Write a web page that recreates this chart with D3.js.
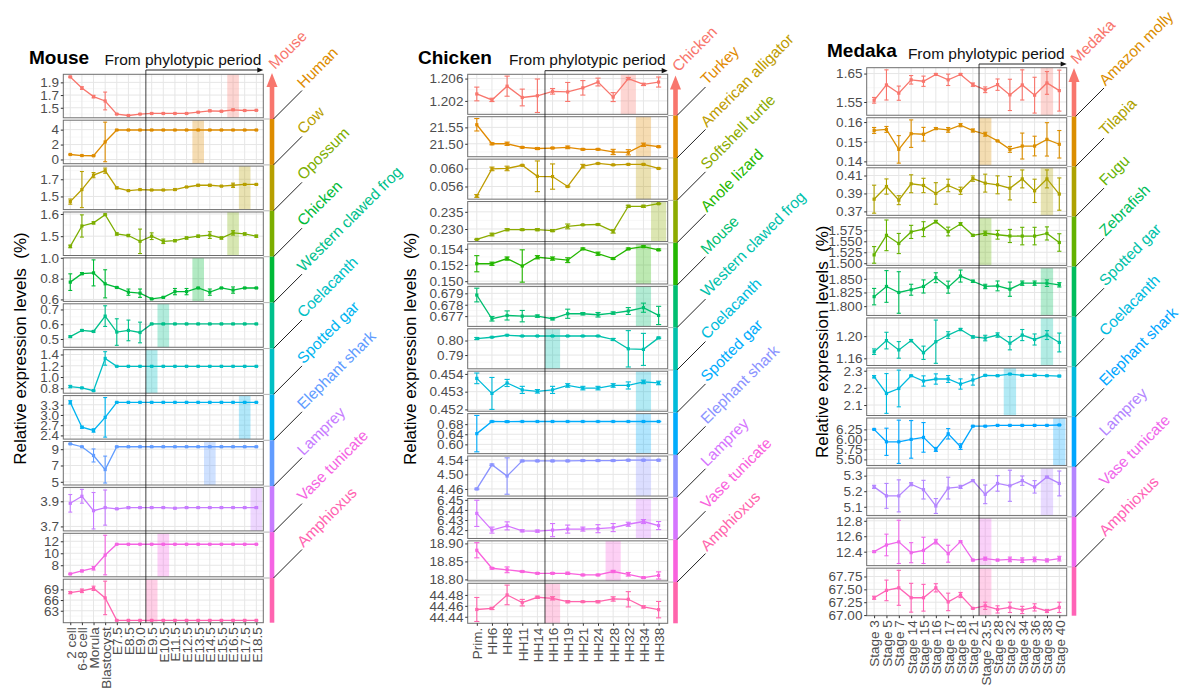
<!DOCTYPE html>
<html>
<head>
<meta charset="utf-8">
<script src="https://cdn.jsdelivr.net/npm/d3@7"></script>
<style>
  html, body { margin: 0; padding: 0; background: #fff; }
  svg { display: block; font-family: "Liberation Sans", Arial, Helvetica, sans-serif; }
</style>
</head>
<body>
<svg id="chart" width="1190" height="690"></svg>
<script>
// ---------- Mouse ----------
const mouseStages = ["2 cell","6-8 cell","Morula","Blastocyst","E7.5","E8.5","E9.0","E9.5","E10.5","E11.5","E12.5","E13.5","E14.5","E15.5","E16.5","E17.5","E18.5"];
const mouseSpecies = ["Mouse","Human","Cow","Opossum","Chicken","Western clawed frog","Coelacanth","Spotted gar","Elephant shark","Lamprey","Vase tunicate","Amphioxus"];
const mouseLevels = [
  [1.986,1.81,1.676,1.607,1.40,1.378,1.40,1.41,1.41,1.41,1.41,1.43,1.452,1.445,1.468,1.457,1.46],
  [0.67,0.53,0.5,2.35,3.95,3.95,3.95,3.95,3.95,3.95,3.95,3.95,3.95,3.95,3.95,3.95,3.95],
  [1.44,1.58,1.748,1.80,1.60,1.568,1.58,1.575,1.575,1.58,1.61,1.63,1.63,1.62,1.63,1.64,1.64],
  [1.454,1.546,1.56,1.597,1.51,1.503,1.477,1.50,1.477,1.48,1.492,1.50,1.505,1.492,1.515,1.51,1.50],
  [0.766,0.848,0.855,0.75,0.715,0.67,0.66,0.605,0.62,0.675,0.675,0.71,0.67,0.71,0.69,0.71,0.71],
  [0.516,0.558,0.551,0.655,0.547,0.558,0.544,0.602,0.602,0.602,0.602,0.602,0.602,0.602,0.602,0.602,0.602],
  [0.831,0.807,0.758,1.33,1.19,1.19,1.19,1.19,1.19,1.19,1.19,1.19,1.19,1.19,1.19,1.19,1.19],
  [3.37,2.64,2.545,2.93,3.37,3.37,3.37,3.37,3.37,3.37,3.37,3.37,3.37,3.37,3.37,3.37,3.37],
  [9.65,9.3,8.23,6.5,9.3,9.3,9.3,9.3,9.3,9.3,9.3,9.3,9.3,9.3,9.3,9.3,9.3],
  [3.884,3.94,3.825,3.85,3.84,3.85,3.85,3.85,3.85,3.845,3.85,3.85,3.85,3.85,3.85,3.85,3.85],
  [6.55,7.05,7.5,9.7,11.5,11.5,11.5,11.5,11.5,11.5,11.5,11.5,11.5,11.5,11.5,11.5,11.5],
  [68.1,68.6,69.3,66.6,60.3,60.3,60.3,60.3,60.3,60.3,60.3,60.3,60.3,60.3,60.3,60.3,60.3]
];
const mouseErrors = [
  [0.01,0.02,0.02,0.14,0.005,0.005,0.005,0.005,0.005,0.005,0.005,0.005,0.012,0.008,0.01,0.005,0.005],
  [0.05,0.05,0.05,2.65,0.03,0.03,0.03,0.03,0.03,0.03,0.03,0.03,0.03,0.03,0.03,0.03,0.03],
  [0.03,0.21,0.03,0.03,0.01,0.005,0.005,0.005,0.005,0.01,0.005,0.01,0.01,0.005,0.025,0.005,0.005],
  [0.006,0.05,0.005,0.003,0.005,0.005,0.055,0.015,0.01,0.005,0.005,0.005,0.015,0.005,0.01,0.005,0.005],
  [0.08,0.01,0.125,0.135,0.005,0.03,0.04,0.005,0.005,0.03,0.03,0.005,0.03,0.005,0.03,0.005,0.005],
  [0.005,0.005,0.005,0.07,0.09,0.07,0.07,0.004,0.004,0.004,0.004,0.004,0.004,0.004,0.004,0.004,0.004],
  [0.02,0.01,0.01,0.12,0.005,0.005,0.005,0.005,0.005,0.005,0.005,0.005,0.005,0.005,0.005,0.005,0.005],
  [0.05,0.03,0.05,0.58,0.01,0.01,0.01,0.01,0.01,0.01,0.01,0.01,0.01,0.01,0.01,0.01,0.01],
  [0.05,0.05,0.8,1.65,0.05,0.05,0.05,0.05,0.05,0.05,0.05,0.05,0.05,0.05,0.05,0.05,0.05],
  [0.07,0.055,0.145,0.14,0.005,0.008,0.005,0.005,0.005,0.005,0.005,0.005,0.005,0.005,0.005,0.005,0.005],
  [0.1,0.15,0.3,3.3,0.05,0.05,0.05,0.05,0.05,0.05,0.05,0.05,0.05,0.05,0.05,0.05,0.05],
  [0.3,0.5,0.6,4.7,0.1,0.1,0.1,0.1,0.1,0.1,0.1,0.1,0.1,0.1,0.1,0.1,0.1]
];
const mouseTicks = [["1.9","1.7","1.5"],["4","2","0"],["1.7","1.5"],["1.6","1.5"],["1.0","0.8","0.6"],["0.7","0.6","0.5"],["1.4","1.2","1.0","0.8"],["3.3","3.0","2.7","2.4"],["9","7","5"],["3.9","3.7"],["12","10","8"],["69","66","63"]];
const mouseHighlight = ["E16.5","E13.5","E17.5","E16.5","E13.5","E10.5","E9.5","E17.5","E14.5","E18.5","E10.5","E9.5"];
const mousePhylotypic = "E9.5";

// ---------- Chicken ----------
const chickenStages = ["Prim.","HH6","HH8","HH11","HH14","HH16","HH19","HH21","HH24","HH28","HH32","HH34","HH38"];
const chickenSpecies = ["Chicken","Turkey","American alligator","Softshell turtle","Anole lizard","Mouse","Western clawed frog","Coelacanth","Spotted gar","Elephant shark","Lamprey","Vase tunicate","Amphioxus"];
const chickenLevels = [
  [1.20324,1.20218,1.20464,1.20261,1.20292,1.20372,1.2036,1.20434,1.20538,1.20268,1.206,1.20495,1.20538],
  [21.558,21.50,21.50,21.489,21.4855,21.487,21.489,21.483,21.483,21.475,21.474,21.497,21.491],
  [0.0539,0.0599,0.0600,0.0607,0.05826,0.0582,0.0560,0.0605,0.0611,0.0608,0.0609,0.0609,0.0600],
  [0.22697,0.22839,0.2298,0.2298,0.2298,0.22953,0.23075,0.23122,0.2313,0.2293,0.23661,0.23661,0.23736],
  [0.15216,0.15216,0.1528,0.15188,0.15296,0.1528,0.1526,0.154,0.1534,0.1528,0.154,0.15428,0.15388],
  [0.67885,0.67677,0.67706,0.677,0.677,0.67677,0.67721,0.67721,0.67712,0.67727,0.67745,0.67774,0.67706],
  [0.80136,0.80225,0.8036,0.8031,0.8031,0.8031,0.8031,0.8031,0.8031,0.8007,0.7943,0.7939,0.8018],
  [0.45375,0.4529,0.45349,0.4531,0.45302,0.4531,0.45335,0.4532,0.4532,0.45335,0.45335,0.45355,0.45349],
  [0.6425,0.6905,0.69,0.6905,0.6905,0.6905,0.6905,0.6905,0.6905,0.6905,0.6905,0.6905,0.6905],
  [4.46,4.5263,4.4954,4.537,4.537,4.537,4.537,4.538,4.538,4.538,4.539,4.539,4.539],
  [6.4366,6.42,6.4242,6.4193,6.419,6.42,6.421,6.421,6.4214,6.4225,6.4258,6.4285,6.4245],
  [18.881,18.831,18.8267,18.822,18.817,18.817,18.817,18.8124,18.8124,18.822,18.8143,18.805,18.811],
  [44.4533,44.4552,44.48,44.4658,44.4757,44.4738,44.4676,44.4676,44.4676,44.4726,44.472,44.458,44.453]
];
const chickenErrors = [
  [0.00123,0.0003,0.0018,0.0015,0.003,0.0005,0.0017,0.0013,0.0007,0.0008,0.0002,0.0002,0.0009],
  [0.019,0.003,0.005,0.002,0.003,0.002,0.004,0.002,0.002,0.008,0.008,0.005,0.002],
  [0.0003,0.0004,0.0005,0.0001,0.0034,0.0028,0.0001,0.0004,0.0001,0.0001,0.0001,0.0001,0.0001],
  [0.0001,0.0004,0.0003,0.0002,0.0003,0.0003,0.0007,0.0001,0.0002,0.0005,0.0003,0.0003,0.0001],
  [0.001,0.0002,0.0002,0.002,0.0002,0.0002,0.0003,0.0001,0.0002,0.0001,0.0001,0.0001,0.0001],
  [0.0006,0.0002,0.0004,0.0005,0.0001,0.0001,0.0004,0.0001,0.0002,0.0001,0.0003,0.0004,0.0008],
  [0.0007,0.0002,0.0002,0.0002,0.0002,0.0002,0.0002,0.0002,0.0002,0.0007,0.0125,0.011,0.0005],
  [0.0003,0.0009,0.0002,0.0002,0.0001,0.0002,0.0001,0.0001,0.0001,0.0001,0.0002,0.0001,0.0001],
  [0.072,0.002,0.003,0.001,0.001,0.001,0.001,0.001,0.001,0.001,0.001,0.001,0.001],
  [0.002,0.002,0.05,0.002,0.002,0.002,0.002,0.002,0.002,0.002,0.002,0.002,0.002],
  [0.013,0.003,0.004,0.001,0.001,0.0065,0.004,0.002,0.004,0.004,0.002,0.002,0.004],
  [0.021,0.002,0.008,0.002,0.002,0.002,0.003,0.002,0.002,0.003,0.005,0.002,0.01],
  [0.022,0.002,0.018,0.006,0.002,0.003,0.002,0.001,0.002,0.004,0.014,0.002,0.015]
];
const chickenTicks = [["1.206","1.202"],["21.55","21.50"],["0.060","0.056"],["0.235","0.230"],["0.154","0.152","0.150"],["0.679","0.678","0.677"],["0.80","0.79"],["0.454","0.453","0.452"],["0.68","0.64","0.60"],["4.54","4.50","4.46"],["6.45","6.44","6.43","6.42"],["18.90","18.85","18.80"],["44.48","44.46","44.44"]];
const chickenHighlight = ["HH32","HH34","HH34","HH38","HH34","HH34","HH16","HH34","HH34","HH34","HH34","HH28","HH16"];
const chickenPhylotypic = "HH16";

// ---------- Medaka ----------
const medakaStages = ["Stage 3","Stage 5","Stage 7","Stage 14","Stage 15","Stage 16","Stage 17","Stage 18","Stage 21","Stage 23.5","Stage 28","Stage 32","Stage 34","Stage 36","Stage 38","Stage 40"];
const medakaSpecies = ["Medaka","Amazon molly","Tilapia","Fugu","Zebrafish","Spotted gar","Coelacanth","Elephant shark","Lamprey","Vase tunicate","Amphioxus"];
const medakaLevels = [
  [1.556,1.61,1.581,1.628,1.623,1.647,1.628,1.647,1.611,1.593,1.611,1.575,1.61,1.574,1.617,1.59],
  [0.15574,0.15625,0.1461,0.1541,0.1538,0.1567,0.156,0.1584,0.1557,0.1538,0.1504,0.1461,0.1478,0.1478,0.1512,0.1487],
  [0.3836,0.3977,0.3825,0.4008,0.3989,0.39,0.3989,0.393,0.4066,0.4015,0.3996,0.3958,0.4062,0.3929,0.4062,0.3893],
  [1.519,1.5637,1.545,1.5715,1.5778,1.595,1.5724,1.5896,1.5637,1.5684,1.565,1.5622,1.562,1.562,1.568,1.5473],
  [1.8174,1.836,1.825,1.830,1.836,1.852,1.8347,1.855,1.8455,1.836,1.837,1.831,1.842,1.842,1.842,1.839],
  [1.172,1.192,1.1752,1.192,1.17,1.19,1.202,1.212,1.1986,1.1966,1.202,1.1873,1.202,1.194,1.202,1.1886],
  [2.265,2.1674,2.1965,2.2709,2.2401,2.2517,2.2517,2.2226,2.246,2.2733,2.2709,2.2807,2.2733,2.2733,2.2709,2.269],
  [6.25,5.94,5.94,6.0,6.05,5.75,6.14,5.82,6.33,6.33,6.35,6.35,6.35,6.35,6.35,6.36],
  [5.228,5.17,5.17,5.245,5.21,5.105,5.22,5.228,5.268,5.18,5.25,5.235,5.268,5.228,5.291,5.25],
  [12.4,12.487,12.527,12.387,12.417,12.53,12.374,12.53,12.291,12.31,12.291,12.3,12.29,12.3,12.287,12.31],
  [67.337,67.48,67.53,67.337,67.337,67.53,67.256,67.39,67.13,67.18,67.11,67.15,67.10,67.15,67.08,67.15]
];
const medakaErrors = [
  [0.01,0.053,0.025,0.015,0.018,0.003,0.02,0.003,0.006,0.01,0.02,0.055,0.053,0.063,0.04,0.072],
  [0.0015,0.0015,0.007,0.007,0.0035,0.0005,0.0012,0.0008,0.0008,0.001,0.0003,0.0015,0.0066,0.005,0.0085,0.007],
  [0.0156,0.0085,0.005,0.01,0.008,0.012,0.007,0.004,0.003,0.01,0.01,0.013,0.01,0.013,0.01,0.018],
  [0.019,0.035,0.023,0.015,0.017,0.003,0.01,0.003,0.002,0.005,0.01,0.015,0.02,0.02,0.015,0.02],
  [0.015,0.029,0.038,0.01,0.012,0.009,0.011,0.011,0.002,0.004,0.009,0.013,0.004,0.004,0.006,0.004],
  [0.005,0.015,0.015,0.002,0.012,0.039,0.006,0.002,0.002,0.005,0.004,0.012,0.01,0.01,0.008,0.017],
  [0.007,0.116,0.107,0.003,0.03,0.03,0.02,0.03,0.03,0.003,0.004,0.003,0.004,0.006,0.003,0.004],
  [0.01,0.34,0.54,0.47,0.37,0.05,0.13,0.07,0.01,0.01,0.01,0.01,0.01,0.01,0.01,0.01],
  [0.01,0.08,0.103,0.01,0.06,0.048,0.07,0.01,0.005,0.06,0.05,0.1,0.03,0.04,0.005,0.08],
  [0.01,0.14,0.28,0.13,0.17,0.03,0.11,0.01,0.01,0.02,0.01,0.03,0.03,0.03,0.02,0.03],
  [0.03,0.2,0.34,0.28,0.26,0.08,0.17,0.05,0.01,0.07,0.07,0.1,0.07,0.07,0.03,0.1]
];
const medakaTicks = [["1.65","1.55"],["0.16","0.15","0.14"],["0.41","0.39","0.37"],["1.575","1.550","1.525","1.500"],["1.850","1.825","1.800"],["1.20","1.16"],["2.3","2.2","2.1"],["6.25","6.00","5.75","5.50"],["5.3","5.2","5.1"],["12.8","12.6","12.4"],["67.75","67.50","67.25","67.00"]];
const medakaHighlight = ["Stage 38","Stage 23.5","Stage 38","Stage 23.5","Stage 38","Stage 38","Stage 32","Stage 40","Stage 38","Stage 23.5","Stage 23.5"];
const medakaPhylotypic = "Stage 23.5";

// ggplot-style hue palettes (12, 13 and 11 levels)
const hue12 = ["#F8766D","#DE8C00","#B79F00","#7CAE00","#00BA38","#00C08B","#00BFC4","#00B4F0","#619CFF","#C77CFF","#F564E3","#FF64B0"];
const hue13 = ["#F8766D","#E18A00","#BE9C00","#8CAB00","#24B700","#00BE70","#00C1AB","#00BBDA","#00ACFC","#8B93FF","#D575FE","#F962DD","#FF65AC"];
const hue11 = ["#F8766D","#DB8E00","#AEA200","#64B200","#00BD5C","#00C1A7","#00BADE","#00A6FF","#B385FF","#EF67EB","#FF63B6"];

const FONT = '"Liberation Sans", Arial, Helvetica, sans-serif';
const svg = d3.select("#chart");

function drawPanel(p, L) {
  const n = p.species.length;
  const rowStep = (L.bottom - L.top + L.gap) / n;
  const rowH = rowStep - L.gap;
  const x = d3.scalePoint().domain(p.stages).range([L.x0, L.x1]).padding(0.6);
  const step = x.step();
  const capW = step * 0.34;
  const g = svg.append("g");

  p.species.forEach((sp, r) => {
    const top = L.top + r * rowStep, bot = top + rowH;
    const vals = p.levels[r], errs = p.errors[r];
    const lo = d3.min(vals.map((v, i) => v - errs[i]));
    const hi = d3.max(vals.map((v, i) => v + errs[i]));
    const pad = (hi - lo) * 0.05;
    const y = d3.scaleLinear().domain([lo - pad, hi + pad]).range([bot, top]);
    const tickVals = p.ticks[r].map(Number);
    const color = p.colors[r];
    const row = g.append("g");

    row.append("rect").attr("x", L.x0).attr("y", top)
      .attr("width", L.x1 - L.x0).attr("height", rowH).attr("fill", "#fff");

    // minor horizontal grid, halfway between labelled breaks
    const d = Math.abs(tickVals[0] - tickVals[1]);
    const tmin = d3.min(tickVals), tmax = d3.max(tickVals);
    const [dlo, dhi] = y.domain();
    const minors = [];
    for (let k = -1; k <= Math.round((tmax - tmin) / d); k++) minors.push(tmin + d * (k + 0.5));
    row.selectAll("line.minor").data(minors.filter(t => t > dlo && t < dhi)).join("line")
      .attr("class", "minor")
      .attr("x1", L.x0).attr("x2", L.x1)
      .attr("y1", t => y(t)).attr("y2", t => y(t))
      .attr("stroke", "#F2F2F2").attr("stroke-width", 0.6);
    // major horizontal grid
    row.selectAll("line.major").data(tickVals).join("line")
      .attr("class", "major")
      .attr("x1", L.x0).attr("x2", L.x1)
      .attr("y1", t => y(t)).attr("y2", t => y(t))
      .attr("stroke", "#E6E6E6").attr("stroke-width", 1);
    // vertical grid at each stage
    row.selectAll("line.vgrid").data(p.stages).join("line")
      .attr("class", "vgrid")
      .attr("x1", s => x(s)).attr("x2", s => x(s))
      .attr("y1", top).attr("y2", bot)
      .attr("stroke", "#E6E6E6").attr("stroke-width", 1);

    // shaded stage
    row.append("rect")
      .attr("x", x(p.highlight[r]) - step / 2).attr("y", top)
      .attr("width", step).attr("height", rowH)
      .attr("fill", color).attr("fill-opacity", 0.3);

    // expression line
    const line = d3.line().x((v, i) => x(p.stages[i])).y(v => y(v));
    row.append("path").datum(vals).attr("d", line)
      .attr("fill", "none").attr("stroke", color).attr("stroke-width", 1.3);

    // error bars
    const eb = row.selectAll("g.eb").data(vals).join("g").attr("class", "eb")
      .attr("stroke", color).attr("stroke-width", 1.1);
    eb.append("line")
      .attr("x1", (v, i) => x(p.stages[i])).attr("x2", (v, i) => x(p.stages[i]))
      .attr("y1", (v, i) => y(v - errs[i])).attr("y2", (v, i) => y(v + errs[i]));
    eb.append("line")
      .attr("x1", (v, i) => x(p.stages[i]) - capW / 2).attr("x2", (v, i) => x(p.stages[i]) + capW / 2)
      .attr("y1", (v, i) => y(v - errs[i])).attr("y2", (v, i) => y(v - errs[i]));
    eb.append("line")
      .attr("x1", (v, i) => x(p.stages[i]) - capW / 2).attr("x2", (v, i) => x(p.stages[i]) + capW / 2)
      .attr("y1", (v, i) => y(v + errs[i])).attr("y2", (v, i) => y(v + errs[i]));

    // points
    row.selectAll("rect.pt").data(vals).join("rect").attr("class", "pt")
      .attr("x", (v, i) => x(p.stages[i]) - 1.6).attr("y", v => y(v) - 1.6)
      .attr("width", 3.2).attr("height", 3.2).attr("fill", color);

    // panel border
    row.append("rect").attr("x", L.x0).attr("y", top)
      .attr("width", L.x1 - L.x0).attr("height", rowH)
      .attr("fill", "none").attr("stroke", "#6E6E6E").attr("stroke-width", 1);

    // y axis
    const ax = d3.axisLeft(y).tickValues(tickVals)
      .tickFormat((t, i) => p.ticks[r][i]).tickSize(2.5).tickPadding(1.8);
    const ag = row.append("g").attr("transform", `translate(${L.x0},0)`).call(ax)
      .attr("font-family", FONT).attr("font-size", L.tickFont);
    ag.select(".domain").remove();
    ag.selectAll(".tick line").attr("stroke", "#333");
    ag.selectAll(".tick text").attr("fill", "#4D4D4D");
  });

  // x axis below the last facet
  const xa = d3.axisBottom(x).tickSize(2.5).tickPadding(2);
  const xg = g.append("g").attr("transform", `translate(0,${L.bottom})`).call(xa)
    .attr("font-family", FONT).attr("font-size", L.xFont);
  xg.select(".domain").remove();
  xg.selectAll(".tick line").attr("stroke", "#333");
  xg.selectAll(".tick text")
    .attr("fill", "#4D4D4D")
    .attr("transform", "rotate(-90)")
    .attr("x", -4.5).attr("y", 0).attr("dy", "0.36em")
    .style("text-anchor", "end");

  // phylotypic-period marker: vertical rule and arrow
  const px = x(p.phylotypic) - step / 2;
  g.append("line").attr("x1", px).attr("x2", px).attr("y1", L.arrowY).attr("y2", L.bottom)
    .attr("stroke", "#111").attr("stroke-width", 0.8);
  g.append("line").attr("x1", px).attr("x2", L.x1 - 4).attr("y1", L.arrowY).attr("y2", L.arrowY)
    .attr("stroke", "#111").attr("stroke-width", 0.9);
  g.append("path")
    .attr("d", `M${L.x1},${L.arrowY} L${L.x1 - 6},${L.arrowY - 2.6} L${L.x1 - 6},${L.arrowY + 2.6} Z`)
    .attr("fill", "#111");
  g.append("text").attr("x", L.x1 - 2).attr("y", L.arrowY - 5.5)
    .attr("text-anchor", "end").attr("font-size", 15.5).attr("fill", "#111")
    .text("From phylotypic period");

  // panel title
  g.append("text").attr("x", L.titleX).attr("y", L.titleY)
    .attr("font-size", 19).attr("font-weight", "bold").attr("fill", "#000")
    .text(p.title);

  // y axis title
  const cy = (L.top + L.bottom) / 2;
  g.append("text")
    .attr("transform", `translate(${L.yTitleX},${cy}) rotate(-90)`)
    .attr("text-anchor", "middle").attr("dy", "0.35em")
    .attr("font-size", 17).attr("fill", "#000")
    .style("white-space", "pre")
    .text("Relative expression levels  (%)");

  // coloured phylogeny bar with species labels
  const headLen = 14;
  const boundary = k => L.top + k * rowStep - L.gap / 2;
  p.species.forEach((sp, k) => {
    const y0 = k === 0 ? L.tip + headLen - 0.5 : boundary(k);
    const y1 = k === n - 1 ? L.bottom : boundary(k + 1);
    g.append("rect").attr("x", L.barX - 2.3).attr("y", y0)
      .attr("width", 4.6).attr("height", y1 - y0).attr("fill", p.colors[k]);
  });
  g.append("path")
    .attr("d", `M${L.barX - 5.5},${L.tip + headLen} L${L.barX},${L.tip} L${L.barX + 5.5},${L.tip + headLen} Z`)
    .attr("fill", p.colors[0]);

  for (let k = 1; k < n; k++) {
    const by = boundary(k);
    g.append("line").attr("x1", L.x1).attr("x2", L.barX - 2.3).attr("y1", by).attr("y2", by)
      .attr("stroke", "#A0A0A0").attr("stroke-width", 0.8);
    g.append("line").attr("x1", L.barX + 1.5).attr("y1", by)
      .attr("x2", L.barX + 30).attr("y2", by - 28.5)
      .attr("stroke", "#222").attr("stroke-width", 1);
  }
  p.species.forEach((sp, k) => {
    const ox = k === 0 ? L.barX + 3 : L.barX + 31.5;
    const oy = k === 0 ? L.tip - 3 : boundary(k) - 30;
    g.append("text").attr("transform", `translate(${ox},${oy}) rotate(-45)`)
      .attr("font-size", 15.5).attr("fill", p.colors[k]).text(sp);
  });
}

svg.attr("font-family", FONT);

drawPanel(
  { title: "Mouse", stages: mouseStages, species: mouseSpecies, levels: mouseLevels,
    errors: mouseErrors, ticks: mouseTicks, highlight: mouseHighlight,
    phylotypic: mousePhylotypic, colors: hue12 },
  { x0: 63.3, x1: 263.3, top: 74.3, bottom: 622.7, gap: 2.4, arrowY: 70, barX: 272, tip: 73,
    titleX: 29, titleY: 63.5, yTitleX: 20, tickFont: 13.5, xFont: 13.5 }
);
drawPanel(
  { title: "Chicken", stages: chickenStages, species: chickenSpecies, levels: chickenLevels,
    errors: chickenErrors, ticks: chickenTicks, highlight: chickenHighlight,
    phylotypic: chickenPhylotypic, colors: hue13 },
  { x0: 467.7, x1: 667.7, top: 74.3, bottom: 623.3, gap: 2.4, arrowY: 70.7, barX: 675.5, tip: 75.5,
    titleX: 418, titleY: 63.5, yTitleX: 410, tickFont: 13.5, xFont: 13.5 }
);
drawPanel(
  { title: "Medaka", stages: medakaStages, species: medakaSpecies, levels: medakaLevels,
    errors: medakaErrors, ticks: medakaTicks, highlight: medakaHighlight,
    phylotypic: medakaPhylotypic, colors: hue11 },
  { x0: 866.7, x1: 1066.7, top: 67.7, bottom: 615.7, gap: 2.5, arrowY: 64, barX: 1074, tip: 68,
    titleX: 827, titleY: 57, yTitleX: 822, tickFont: 13.5, xFont: 13.5 }
);
</script>
</body>
</html>
